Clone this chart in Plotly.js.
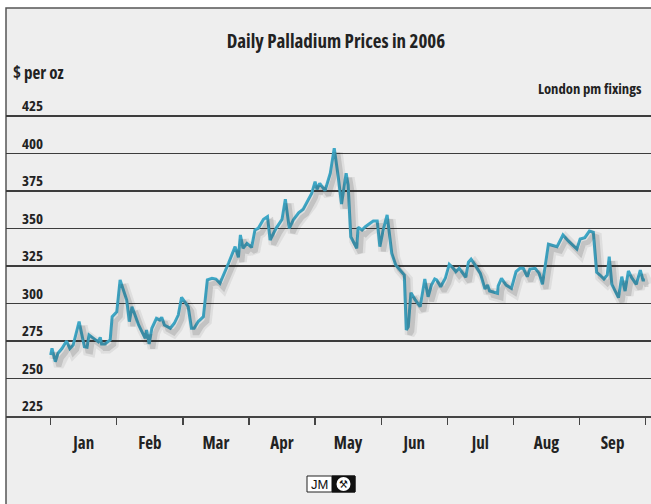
<!DOCTYPE html>
<html>
<head>
<meta charset="utf-8">
<script src="https://cdn.plot.ly/plotly-3.0.1.min.js"></script>
<style>
html,body{margin:0;padding:0;background:#fff;}
#chart{width:651px;height:504px;}
svg text{font-stretch:75%;}
</style>
</head>
<body>
<div id="chart"></div>
<script>
// Month categories (x axis: 0 = 1 Jan, 1 = 1 Feb, ... 9 = 1 Oct)
const monthLabels = ['Jan','Feb','Mar','Apr','May','Jun','Jul','Aug','Sep'];
const monthLabelPos = [0.5,1.5,2.5,3.5,4.5,5.5,6.5,7.5,8.5];
const monthTickPos = [0,1,2,3,4,5,6,7,8,9];
const yTicks = [225,250,275,300,325,350,375,400,425];

// Position within the year, in months
const monthPos = [0.00,0.02,0.07,0.11,0.17,0.24,0.29,0.34,0.43,0.51,0.55,0.58,0.67,0.72,0.75,0.77,0.82,0.90,0.93,
1.00,1.05,1.15,1.19,1.23,1.33,1.43,1.45,1.49,1.53,1.60,1.65,1.68,1.72,1.81,1.87,1.93,1.98,
2.08,2.13,2.17,2.23,2.31,2.37,2.44,2.50,2.56,2.69,2.79,2.84,2.87,2.91,2.97,
3.04,3.09,3.14,3.22,3.28,3.32,3.41,3.50,3.55,3.61,3.67,3.75,3.82,3.90,3.95,
4.00,4.03,4.07,4.15,4.23,4.29,4.35,4.40,4.47,4.50,4.54,4.63,4.65,4.71,4.76,4.88,4.94,4.98,
5.03,5.09,5.16,5.22,5.35,5.38,5.41,5.45,5.51,5.59,5.66,5.71,5.76,5.81,5.84,5.90,5.97,
6.03,6.09,6.13,6.18,6.28,6.32,6.36,6.42,6.50,6.57,6.61,6.64,6.76,6.77,6.82,6.89,6.97,
7.04,7.10,7.15,7.21,7.25,7.33,7.39,7.44,7.53,7.60,7.66,7.75,7.83,7.96,
8.01,8.08,8.15,8.21,8.26,8.31,8.37,8.42,8.45,8.49,8.54,8.59,8.64,8.69,8.74,8.79,8.86,8.92,8.96,8.99];

// London pm fixing, $ per oz
const price = [265.7,270.1,261.2,266.8,270.0,275.0,270.0,272.3,287.9,271.2,270.8,279.0,276.1,274.5,277.4,273.0,273.0,275.7,291.2,
294.5,315.7,302.3,287.9,297.9,285.7,276.8,282.3,273.0,283.5,290.1,289.0,290.8,285.7,283.5,286.8,292.3,304.1,
297.9,283.5,283.5,287.9,291.2,315.7,316.8,316.3,313.5,326.8,337.9,330.8,345.7,336.8,340.1,
337.4,349.0,350.1,356.1,357.9,342.3,350.1,356.1,369.5,350.1,355.7,360.5,362.8,369.0,373.5,
381.2,376.1,380.1,375.2,386.8,403.5,384.5,366.3,386.8,379.0,344.5,336.8,350.8,349.0,351.2,355.0,355.0,337.9,
349.0,359.0,333.5,325.7,319.0,282.3,284.5,307.2,302.8,297.9,316.3,304.5,312.3,316.3,315.7,311.2,316.8,
326.1,323.5,321.2,323.5,317.5,327.5,329.5,325.7,320.1,309.7,312.3,308.3,306.8,311.7,316.8,312.3,310.1,
321.2,323.5,323.5,317.9,323.0,323.5,320.1,312.8,339.5,338.5,337.9,345.7,341.7,336.3,
343.0,343.9,348.3,347.4,320.8,319.0,316.3,319.0,331.2,312.8,308.3,303.9,317.9,308.3,321.7,317.2,312.8,322.3,315.7,315.7];

const FONT = 'Open Sans, Liberation Sans, sans-serif';
const xRange = [-0.676, 9.082];
const yRange = [225, 427];
// shadow offset in px -> shift the shadow axes' ranges
const shX = 3.5 / 66.1, shY = 4.5 / 1.5;

const traces = [
  {x: monthPos, y: price, type: 'scatter', mode: 'lines', xaxis: 'x2', yaxis: 'y2',
   line: {color: 'rgba(40,40,40,0.08)', width: 10}, hoverinfo: 'skip', showlegend: false},
  {x: monthPos, y: price, type: 'scatter', mode: 'lines', xaxis: 'x2', yaxis: 'y2',
   line: {color: 'rgba(40,40,40,0.15)', width: 5}, hoverinfo: 'skip', showlegend: false},
  {x: monthPos, y: price, type: 'scatter', mode: 'lines', name: 'Palladium',
   line: {color: '#3ea7c6', width: 3}, showlegend: false}
];

const px2paperX = p => (p - 6) / 645;
const px2paperY = p => (416 - p) / 303;

const layout = {
  width: 651, height: 504,
  margin: {l: 6, r: 0, t: 113, b: 88, pad: 0},
  paper_bgcolor: '#ffffff', plot_bgcolor: 'rgba(0,0,0,0)',
  showlegend: false,
  title: {text: 'Daily Palladium Prices in 2006', font: {family: FONT, size: 19, weight: 'bold', color: '#222'},
          xref: 'container', yref: 'container', x: 0.516, y: 0.917, xanchor: 'center', yanchor: 'middle'},
  xaxis: {range: xRange, fixedrange: true, showgrid: false, zeroline: false,
          showline: true, linecolor: '#444', linewidth: 1.5,
          tickmode: 'array', tickvals: monthLabelPos, ticktext: monthLabels, ticks: '',
          ticklabelstandoff: 11,
          tickfont: {family: FONT, size: 17, weight: 'bold', color: '#222'},
          minor: {tickmode: 'array', tickvals: monthTickPos, ticks: 'outside', ticklen: 7, tickwidth: 1.3, tickcolor: '#444', showgrid: false}},
  yaxis: {range: yRange, fixedrange: true, showgrid: true, gridcolor: '#3c3c3c', gridwidth: 1.2, zeroline: false,
          showline: false, tickmode: 'array', tickvals: yTicks, ticktext: yTicks.map(String), ticks: '',
          ticklabelposition: 'inside', ticklabelstandoff: 13, ticklabelshift: -10, ticklabeloverflow: 'allow',
          tickfont: {family: FONT, size: 15, weight: 'bold', color: '#222'}},
  xaxis2: {range: [xRange[0] - shX, xRange[1] - shX], overlaying: 'x', visible: false, fixedrange: true},
  yaxis2: {range: [yRange[0] + shY, yRange[1] + shY], overlaying: 'y', visible: false, fixedrange: true},
  shapes: [
    {type: 'rect', xref: 'paper', yref: 'paper', x0: 0, x1: 1.02, y0: px2paperY(510), y1: px2paperY(8),
     fillcolor: '#eeeeee', line: {color: '#555', width: 1.5}, layer: 'below'},
    // JM logo
    {type: 'rect', xref: 'paper', yref: 'paper', x0: px2paperX(307), x1: px2paperX(355), y0: px2paperY(492), y1: px2paperY(476),
     fillcolor: '#ffffff', line: {color: '#222', width: 1}, layer: 'above'},
    {type: 'rect', xref: 'paper', yref: 'paper', x0: px2paperX(332), x1: px2paperX(355), y0: px2paperY(492), y1: px2paperY(476),
     fillcolor: '#111111', line: {color: '#111', width: 1}, layer: 'above'},
    {type: 'circle', xref: 'paper', yref: 'paper', x0: px2paperX(336.5), x1: px2paperX(350.5), y0: px2paperY(491), y1: px2paperY(477),
     fillcolor: '#ffffff', line: {color: '#ffffff', width: 0}, layer: 'above'}
  ],
  annotations: [
    {text: '$ per oz', xref: 'paper', yref: 'paper', x: px2paperX(11), y: px2paperY(73), xanchor: 'left', yanchor: 'middle',
     showarrow: false, font: {family: FONT, size: 17, weight: 'bold', color: '#222'}},
    {text: 'London pm fixings', xref: 'paper', yref: 'paper', x: px2paperX(644), y: px2paperY(88), xanchor: 'right', yanchor: 'middle',
     showarrow: false, font: {family: FONT, size: 14.7, weight: 'bold', color: '#222'}},
    {text: 'JM', xref: 'paper', yref: 'paper', x: px2paperX(319.5), y: px2paperY(484), xanchor: 'center', yanchor: 'middle',
     showarrow: false, font: {family: 'Liberation Sans, Arial, sans-serif', size: 13, color: '#111'}},
    {text: '\u2692', xref: 'paper', yref: 'paper', x: px2paperX(343.5), y: px2paperY(484), xanchor: 'center', yanchor: 'middle',
     showarrow: false, font: {family: 'DejaVu Sans, sans-serif', size: 11, color: '#111'}}
  ]
};

Plotly.newPlot('chart', traces, layout, {staticPlot: true, displayModeBar: false});
</script>
</body>
</html>
